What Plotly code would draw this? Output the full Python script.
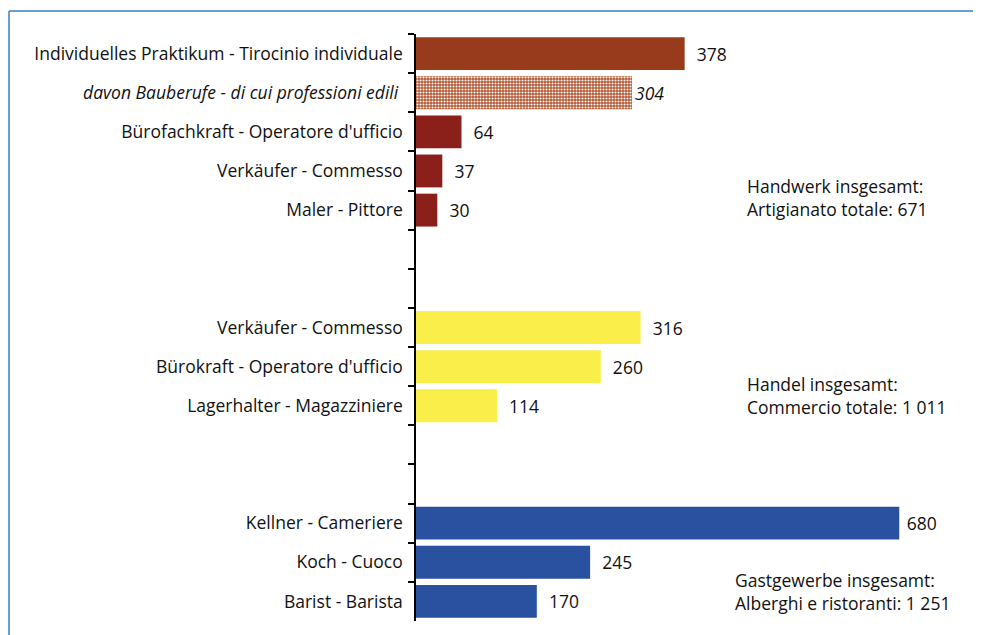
import plotly.graph_objects as go

categories = [
    "Individuelles Praktikum - Tirocinio individuale",
    "<i>davon Bauberufe - di cui professioni edili </i>",
    "Bürofachkraft - Operatore d'ufficio",
    "Verkäufer - Commesso",
    "Maler - Pittore",
    " ", "  ",
    "Verkäufer - Commesso\u200b",
    "Bürokraft - Operatore d'ufficio",
    "Lagerhalter - Magazziniere",
    "   ", "    ",
    "Kellner - Cameriere",
    "Koch - Cuoco",
    "Barist - Barista",
]

values = [378, 304, 64, 37, 30, None, None, 316, 260, 114, None, None, 680, 245, 170]
value_labels = ["\u00a0\u00a0378", "<i>304</i>", "\u00a0\u00a064", "\u00a0\u00a037", "\u00a0\u00a030", "", "",
                "\u00a0\u00a0316", "\u00a0\u00a0260", "\u00a0\u00a0114", "", "",
                "\u00a0680", "\u00a0\u00a0245", "\u00a0\u00a0170"]

bar_colors = ["#983A1C", "#B4532C", "#8B1F1A", "#8B1F1A", "#8B1F1A", "white", "white",
              "#F9EE4A", "#F9EE4A", "#F9EE4A", "white", "white",
              "#2A50A0", "#2A50A0", "#2A50A0"]
pattern_shapes = ["", ".", "", "", "", "", "", "", "", "", "", "", "", "", ""]

totals = [
    ("Handwerk insgesamt:<br>Artigianato totale: 671", 463, 0.722),
    ("Handel insgesamt:<br>Commercio totale: 1 011", 463, 0.385),
    ("Gastgewerbe insgesamt:<br>Alberghi e ristoranti: 1 251", 446, 0.051),
]

FONT = "Open Sans"
FS = 17.5

# the page body adds an 8 px offset, so everything is measured from (8, 8)
OFF = 8
FIG_W, FIG_H = 981 - OFF, 635 - OFF
L, T, B = 416 - OFF, 34 - OFF, 621 - OFF
W, H = FIG_W - L, B - T

fig = go.Figure()
fig.add_trace(go.Bar(
    x=values,
    y=categories,
    orientation="h",
    marker=dict(
        color=bar_colors,
        line=dict(width=0),
        pattern=dict(shape=pattern_shapes, fgcolor="#E2AE90", fgopacity=1,
                     size=3, solidity=0.4, fillmode="overlay"),
    ),
    text=value_labels,
    textposition="outside",
    textfont=dict(family=FONT, size=FS, color="#111"),
    cliponaxis=False,
    hoverinfo="skip",
))

for txt, xv, yv in totals:
    fig.add_annotation(text=txt, x=xv, xref="x", y=yv, yref="paper",
                       showarrow=False, xanchor="left", yanchor="middle", align="left",
                       font=dict(family=FONT, size=FS, color="#111"))

# frame lines (top and left)
top_y = 1 + (T - (11 - OFF)) / H
left_x = ((9 - OFF) - L) / W
fig.add_shape(type="line", xref="paper", yref="paper",
              x0=left_x, x1=1.0, y0=top_y, y1=top_y,
              line=dict(color="#3A7EC0", width=1.5))
fig.add_shape(type="line", xref="paper", yref="paper",
              x0=left_x, x1=left_x, y0=top_y, y1=-(FIG_H - B) / H - 0.01,
              line=dict(color="#3A7EC0", width=1.5))

fig.update_layout(
    width=FIG_W, height=FIG_H,
    margin=dict(l=L, r=0, t=T, b=FIG_H - B),
    plot_bgcolor="white", paper_bgcolor="white",
    bargap=0.16,
    showlegend=False,
    font=dict(family=FONT, size=FS, color="#111"),
)
fig.update_xaxes(range=[0, 795], visible=False, showgrid=False, zeroline=False)
fig.update_yaxes(
    type="category", categoryorder="array", categoryarray=categories,
    autorange="reversed",
    showline=True, linecolor="black", linewidth=1.5,
    ticks="outside", ticklen=6, tickcolor="black", tickwidth=1.5,
    tickson="boundaries", showgrid=False,
    ticklabelstandoff=8,
    tickfont=dict(family=FONT, size=FS, color="#111"),
)

fig.write_html("out.html")
